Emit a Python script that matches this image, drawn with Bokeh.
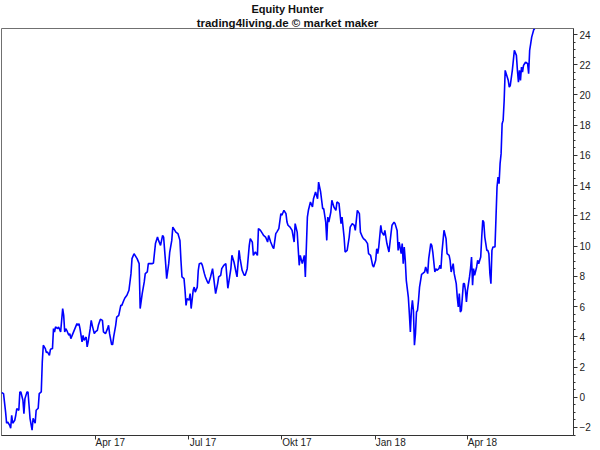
import pandas as pd
from bokeh.plotting import figure
from bokeh.models import Range1d, FixedTicker, SingleIntervalTicker, Title
from bokeh.embed import file_html
from bokeh.resources import INLINE

title_text = "Equity Hunter"
subtitle_text = "trading4living.de \u00a9 market maker"

dates = [
    "2016-12-30", "2017-01-01", "2017-01-03", "2017-01-04", "2017-01-05", "2017-01-07", "2017-01-08",
    "2017-01-09", "2017-01-10", "2017-01-12", "2017-01-13", "2017-01-14", "2017-01-16", "2017-01-17",
    "2017-01-18", "2017-01-20", "2017-01-21", "2017-01-22", "2017-01-24", "2017-01-25", "2017-01-26",
    "2017-01-27", "2017-01-29", "2017-01-30", "2017-02-01", "2017-02-02", "2017-02-04", "2017-02-05",
    "2017-02-07", "2017-02-08", "2017-02-09", "2017-02-11", "2017-02-12", "2017-02-13", "2017-02-15",
    "2017-02-16", "2017-02-18", "2017-02-19", "2017-02-20", "2017-02-21", "2017-02-23", "2017-02-24",
    "2017-02-26", "2017-02-28", "2017-03-01", "2017-03-02", "2017-03-03", "2017-03-04", "2017-03-06",
    "2017-03-07", "2017-03-08", "2017-03-10", "2017-03-12", "2017-03-14", "2017-03-15", "2017-03-16",
    "2017-03-17", "2017-03-19", "2017-03-20", "2017-03-21", "2017-03-23", "2017-03-24", "2017-03-25",
    "2017-03-27", "2017-03-28", "2017-03-29", "2017-03-31", "2017-04-01", "2017-04-03", "2017-04-04",
    "2017-04-06", "2017-04-08", "2017-04-09", "2017-04-11", "2017-04-13", "2017-04-14", "2017-04-15",
    "2017-04-17", "2017-04-18", "2017-04-19", "2017-04-21", "2017-04-22", "2017-04-24", "2017-04-26",
    "2017-04-27", "2017-04-29", "2017-04-30", "2017-05-02", "2017-05-04", "2017-05-06", "2017-05-07",
    "2017-05-09", "2017-05-10", "2017-05-12", "2017-05-14", "2017-05-15", "2017-05-17", "2017-05-19",
    "2017-05-20", "2017-05-22", "2017-05-23", "2017-05-25", "2017-05-27", "2017-05-28", "2017-05-30",
    "2017-06-01", "2017-06-02", "2017-06-04", "2017-06-06", "2017-06-07", "2017-06-09", "2017-06-10",
    "2017-06-12", "2017-06-13", "2017-06-15", "2017-06-16", "2017-06-18", "2017-06-19", "2017-06-21",
    "2017-06-23", "2017-06-24", "2017-06-25", "2017-06-27", "2017-06-28", "2017-06-29", "2017-06-30",
    "2017-07-02", "2017-07-03", "2017-07-04", "2017-07-06", "2017-07-07", "2017-07-08", "2017-07-10",
    "2017-07-11", "2017-07-12", "2017-07-14", "2017-07-15", "2017-07-17", "2017-07-18", "2017-07-20",
    "2017-07-21", "2017-07-23", "2017-07-25", "2017-07-26", "2017-07-28", "2017-07-30", "2017-07-31",
    "2017-08-02", "2017-08-03", "2017-08-05", "2017-08-07", "2017-08-09", "2017-08-12", "2017-08-13",
    "2017-08-15", "2017-08-17", "2017-08-18", "2017-08-20", "2017-08-21", "2017-08-23", "2017-08-25",
    "2017-08-26", "2017-08-28", "2017-08-30", "2017-08-31", "2017-09-02", "2017-09-03", "2017-09-05",
    "2017-09-07", "2017-09-08", "2017-09-10", "2017-09-12", "2017-09-13", "2017-09-15", "2017-09-17",
    "2017-09-18", "2017-09-20", "2017-09-22", "2017-09-23", "2017-09-25", "2017-09-26", "2017-09-28",
    "2017-09-30", "2017-10-01", "2017-10-03", "2017-10-05", "2017-10-06", "2017-10-07", "2017-10-09",
    "2017-10-11", "2017-10-13", "2017-10-14", "2017-10-16", "2017-10-18", "2017-10-19", "2017-10-21",
    "2017-10-23", "2017-10-24", "2017-10-26", "2017-10-27", "2017-10-29", "2017-10-31", "2017-11-01",
    "2017-11-03", "2017-11-05", "2017-11-06", "2017-11-08", "2017-11-10", "2017-11-11", "2017-11-13",
    "2017-11-14", "2017-11-15", "2017-11-16", "2017-11-18", "2017-11-19", "2017-11-21", "2017-11-23",
    "2017-11-24", "2017-11-26", "2017-11-28", "2017-11-29", "2017-12-01", "2017-12-02", "2017-12-04",
    "2017-12-06", "2017-12-07", "2017-12-09", "2017-12-11", "2017-12-12", "2017-12-14", "2017-12-16",
    "2017-12-17", "2017-12-19", "2017-12-20", "2017-12-22", "2017-12-24", "2017-12-25", "2017-12-27",
    "2017-12-29", "2017-12-30", "2018-01-01", "2018-01-02", "2018-01-03", "2018-01-04", "2018-01-06",
    "2018-01-07", "2018-01-09", "2018-01-10", "2018-01-11", "2018-01-12", "2018-01-14", "2018-01-16",
    "2018-01-17", "2018-01-19", "2018-01-20", "2018-01-22", "2018-01-23", "2018-01-24", "2018-01-26",
    "2018-01-27", "2018-01-28", "2018-01-29", "2018-01-30", "2018-01-31", "2018-02-02", "2018-02-03",
    "2018-02-04", "2018-02-05", "2018-02-06", "2018-02-07", "2018-02-08", "2018-02-09", "2018-02-10",
    "2018-02-11", "2018-02-12", "2018-02-13", "2018-02-15", "2018-02-16", "2018-02-18", "2018-02-19",
    "2018-02-20", "2018-02-21", "2018-02-22", "2018-02-24", "2018-02-25", "2018-02-26", "2018-02-28",
    "2018-03-01", "2018-03-02", "2018-03-04", "2018-03-05", "2018-03-06", "2018-03-07", "2018-03-09",
    "2018-03-11", "2018-03-12", "2018-03-14", "2018-03-15", "2018-03-16", "2018-03-18", "2018-03-19",
    "2018-03-21", "2018-03-22", "2018-03-23", "2018-03-24", "2018-03-25", "2018-03-26", "2018-03-28",
    "2018-03-29", "2018-03-30", "2018-03-31", "2018-04-01", "2018-04-03", "2018-04-04", "2018-04-05",
    "2018-04-06", "2018-04-07", "2018-04-08", "2018-04-10", "2018-04-11", "2018-04-12", "2018-04-14",
    "2018-04-15", "2018-04-16", "2018-04-17", "2018-04-18", "2018-04-20", "2018-04-21", "2018-04-22",
    "2018-04-23", "2018-04-24", "2018-04-25", "2018-04-26", "2018-04-28", "2018-04-29", "2018-04-30",
    "2018-05-01", "2018-05-02", "2018-05-03", "2018-05-04", "2018-05-05", "2018-05-06", "2018-05-07",
    "2018-05-08", "2018-05-09", "2018-05-11", "2018-05-12", "2018-05-13", "2018-05-15", "2018-05-16",
    "2018-05-17", "2018-05-19", "2018-05-20", "2018-05-21", "2018-05-22", "2018-05-23", "2018-05-24",
    "2018-05-25", "2018-05-26", "2018-05-27", "2018-05-28", "2018-05-30", "2018-05-31", "2018-06-01",
    "2018-06-02", "2018-06-03", "2018-06-05", "2018-06-06",
]

equity = [
    0.31, 0.24, -0.97, -1.72, -1.63, -1.85, -2.05,
    -1.19, -1.72, -1.52, -1.19, -0.75, -0.86, 0.35,
    0.35, -0.20, -1.08, -0.09, 0.35, 0.35, -0.53,
    -1.41, -2.18, -1.39, -1.72, -0.86, -0.73, 0.24,
    0.35, 2.33, 3.44, 3.22, 2.96, 3.00, 2.78,
    3.17, 3.22, 4.54, 4.32, 4.65, 4.54, 4.65,
    4.32, 5.87, 5.42, 4.32, 4.54, 4.43, 4.10,
    4.21, 3.88, 4.21, 4.54, 4.87, 4.76, 4.87,
    4.54, 3.66, 4.10, 3.77, 3.99, 3.33, 3.66,
    4.54, 5.09, 4.76, 4.21, 4.32, 4.43, 4.76,
    5.16, 5.09, 4.32, 4.21, 4.54, 4.76, 4.21,
    3.49, 3.49, 3.99, 4.76, 5.30, 5.42, 6.08,
    6.08, 6.42, 6.57, 6.75, 7.08, 8.18, 9.17,
    9.50, 9.39, 9.17, 8.84, 5.87, 6.86, 7.63,
    8.18, 8.29, 8.84, 8.84, 8.84, 8.88, 10.17,
    10.60, 10.38, 10.05, 10.71, 10.60, 8.84, 7.85,
    8.84, 9.61, 10.38, 11.26, 11.04, 10.93, 10.83,
    10.38, 9.06, 7.96, 7.85, 7.08, 6.08, 6.53,
    6.42, 6.86, 5.87, 7.08, 7.29, 6.96, 7.29,
    8.40, 8.84, 8.88, 8.73, 8.18, 7.96, 7.63,
    7.52, 7.96, 8.51, 7.96, 6.86, 7.52, 7.96,
    8.07, 8.51, 8.73, 8.84, 7.21, 8.53, 9.39,
    8.95, 8.29, 7.96, 9.72, 9.17, 8.40, 8.07,
    8.07, 8.51, 10.05, 10.50, 10.27, 9.39, 9.61,
    9.39, 11.16, 11.04, 10.83, 10.71, 10.60, 10.27,
    10.71, 10.27, 9.94, 9.83, 10.83, 10.93, 11.16,
    12.15, 12.04, 12.37, 12.15, 11.59, 11.38, 11.26,
    11.04, 10.27, 11.49, 10.93, 8.73, 9.39, 8.84,
    9.39, 7.96, 11.92, 12.37, 12.92, 12.59, 13.14,
    13.58, 13.14, 14.24, 13.58, 12.48, 12.48, 11.59,
    10.38, 11.92, 11.59, 12.26, 13.03, 12.59, 12.37,
    12.92, 12.83, 11.49, 11.92, 10.60, 9.61, 9.72,
    10.60, 11.26, 11.49, 11.38, 11.04, 12.37, 12.15,
    10.93, 10.60, 10.50, 10.38, 10.17, 9.50, 9.39,
    8.73, 8.62, 9.06, 9.83, 9.50, 9.94, 11.38,
    10.93, 10.71, 11.04, 10.60, 10.17, 9.61, 10.83,
    11.38, 11.59, 11.49, 11.04, 9.72, 10.27, 9.50,
    10.17, 8.84, 9.94, 9.06, 7.74, 6.63, 5.54,
    4.32, 5.75, 6.42, 5.75, 3.44, 4.21, 5.64,
    5.75, 6.42, 7.29, 8.13, 8.18, 8.29, 8.62,
    8.40, 8.18, 9.17, 10.17, 10.05, 9.61, 8.29,
    8.51, 8.40, 8.51, 8.73, 8.51, 9.60, 11.05,
    10.50, 9.50, 9.39, 9.06, 8.29, 8.84, 8.18,
    7.52, 6.63, 5.97, 6.86, 5.64, 5.75, 7.52,
    7.52, 7.08, 6.30, 7.08, 7.96, 8.51, 9.28,
    7.41, 8.51, 8.07, 8.62, 9.06, 8.84, 9.28,
    10.60, 11.71, 11.59, 10.60, 9.72, 9.72, 9.50,
    8.18, 7.52, 9.72, 9.94, 9.94, 11.92, 13.91,
    14.57, 14.13, 15.46, 16.12, 18.10, 18.32, 19.64,
    21.63, 21.41, 20.97, 20.52, 20.63, 21.63, 22.29,
    22.95, 22.62, 21.63, 20.85, 21.63, 20.97, 21.85,
    21.51, 21.96, 22.07, 22.18, 22.07, 21.41, 22.95,
    23.39, 23.83, 24.32, 24.38,
]

x_tick_dates = ["2017-04-01", "2017-07-01", "2017-10-01", "2018-01-01", "2018-04-01"]
x_tick_labels = ["Apr 17", "Jul 17", "Okt 17", "Jan 18", "Apr 18"]
x_start, x_end = "2016-12-30", "2018-07-14"
y_start, y_end = -2.53, 24.40

FIG_W, FIG_H = 600, 450
BORDER_L, BORDER_R = 1, 27
LABEL_SHIFT_PX = 15  # month label starts at its tick mark, as in the reference


def to_ms(d):
    return int((pd.Timestamp(d) - pd.Timestamp("1970-01-01")) // pd.Timedelta("1ms"))


x = pd.to_datetime(dates)
x0, x1 = to_ms(x_start), to_ms(x_end)

p = figure(
    width=FIG_W, height=FIG_H,
    x_axis_type="datetime", y_axis_location="right",
    output_backend="svg", toolbar_location=None, title=None,
    x_range=Range1d(x0, x1),
    y_range=Range1d(y_start, y_end),
    min_border_left=BORDER_L, min_border_right=BORDER_R, min_border_top=0, min_border_bottom=0,
)
p.background_fill_color = "white"
p.border_fill_color = "white"
p.outline_line_color = "#707070"
p.outline_line_width = 1
p.xgrid.visible = False
p.ygrid.visible = False

p.line(x, equity, line_color="#0000FF", line_width=1.6)

# titles (subtitle first so it sits closest to the frame)
p.add_layout(Title(text=subtitle_text, align="center", offset=13, standoff=0,
                   text_font="Liberation Sans", text_font_size="11.5px",
                   text_font_style="bold", text_color="#111111"), "above")
p.add_layout(Title(text=title_text, align="center", offset=13, standoff=0,
                   text_font="Liberation Sans", text_font_size="11px",
                   text_font_style="bold", text_color="#111111"), "above")

# bottom axis: tick marks at the month starts (drawn as "minor" ticks),
# labels anchored a little to the right so that each starts at its tick
ms_per_px = (x1 - x0) / (FIG_W - BORDER_L - BORDER_R)
tick_ms = [to_ms(d) for d in x_tick_dates]
label_ms = [int(t + LABEL_SHIFT_PX * ms_per_px) for t in tick_ms]
xa = p.xaxis[0]
xa.ticker = FixedTicker(ticks=label_ms, minor_ticks=tick_ms)
xa.major_label_overrides = {t: lab for t, lab in zip(label_ms, x_tick_labels)}
xa.major_label_text_font = "Liberation Sans"
xa.major_label_text_font_size = "10px"
xa.major_label_text_color = "#222222"
xa.major_label_standoff = -3
xa.major_tick_in = 0
xa.major_tick_out = 0
xa.minor_tick_in = 0
xa.minor_tick_out = 4
xa.axis_line_color = "#333333"
xa.minor_tick_line_color = "#333333"

ya = p.yaxis[0]
ya.ticker = SingleIntervalTicker(interval=2, num_minor_ticks=4)
ya.major_label_text_font = "Liberation Sans"
ya.major_label_text_font_size = "10px"
ya.major_label_text_color = "#222222"
ya.major_tick_in = 0
ya.major_tick_out = 4
ya.minor_tick_in = 0
ya.minor_tick_out = 2
ya.major_label_standoff = 2
ya.axis_line_color = "#333333"
ya.major_tick_line_color = "#333333"
ya.minor_tick_line_color = "#333333"

open("out.html", "w").write(file_html(p, INLINE))
